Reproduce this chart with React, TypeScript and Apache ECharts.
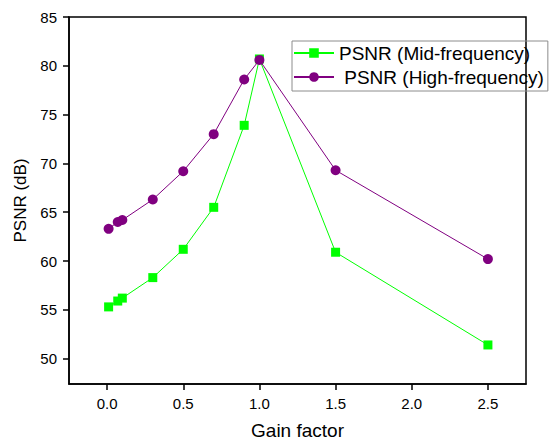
import React, { useEffect, useRef } from "react";
import * as echarts from "echarts";

const gainFactors = [0.01, 0.07, 0.1, 0.3, 0.5, 0.7, 0.9, 1.0, 1.5, 2.5];
const psnrMid = [55.3, 55.9, 56.2, 58.3, 61.2, 65.5, 73.9, 80.7, 60.9, 51.4];
const psnrHigh = [63.3, 64.0, 64.2, 66.3, 69.2, 73.0, 78.6, 80.6, 69.3, 60.2];
const xTicks = [0, 0.5, 1.0, 1.5, 2.0, 2.5];
const yTicks = [50, 55, 60, 65, 70, 75, 80, 85];
const seriesNames = ["PSNR (Mid-frequency)", " PSNR (High-frequency)"];

const FONT = "'Liberation Sans', Arial, Helvetica, sans-serif";

export default function App() {
  const ref = useRef<HTMLDivElement>(null);
  useEffect(() => {
    if (!ref.current) return;
    const chart = echarts.init(ref.current, null, { renderer: "svg" });
    chart.setOption({
      animation: false,
      backgroundColor: "#fff",
      textStyle: { fontFamily: FONT },
      grid: {
        left: 69,
        right: 27,
        top: 17,
        bottom: 58,
        show: true,
        borderColor: "#000",
        borderWidth: 1.5,
        backgroundColor: "transparent",
      },
      legend: {
        orient: "vertical",
        left: 292,
        top: 41,
        data: seriesNames,
        borderColor: "#8c8c8c",
        borderWidth: 1,
        padding: [1, 4, 3, 1],
        itemWidth: 40,
        itemHeight: 12,
        itemGap: 2,
        textStyle: { fontSize: 19, color: "#000", fontFamily: FONT, lineHeight: 22 },
      },
      xAxis: {
        type: "value",
        min: -0.25,
        max: 2.75,
        name: "Gain factor",
        nameLocation: "middle",
        nameGap: 37,
        nameTextStyle: { fontSize: 19, color: "#000", fontFamily: FONT },
        axisLine: { show: true, onZero: false, lineStyle: { color: "#000", width: 1.5 } },
        axisTick: { show: true, length: 6, inside: false, customValues: xTicks, lineStyle: { color: "#000", width: 1.5 } },
        axisLabel: {
          customValues: xTicks,
          fontSize: 15,
          color: "#000",
          margin: 12,
          fontFamily: FONT,
          formatter: (v: number) => v.toFixed(1),
        },
        splitLine: { show: false },
      },
      yAxis: {
        type: "value",
        min: 47.4,
        max: 85,
        name: "PSNR (dB)",
        nameLocation: "middle",
        nameGap: 35,
        nameTextStyle: { fontSize: 17, color: "#000", fontFamily: FONT },
        axisLine: { show: true, onZero: false, lineStyle: { color: "#000", width: 1.5 } },
        axisTick: { show: true, length: 6, inside: false, customValues: yTicks, lineStyle: { color: "#000", width: 1.5 } },
        axisLabel: {
          customValues: yTicks,
          fontSize: 15,
          color: "#000",
          margin: 12,
          fontFamily: FONT,
        },
        splitLine: { show: false },
      },
      series: [
        {
          name: seriesNames[0],
          type: "line",
          data: gainFactors.map((x, i) => [x, psnrMid[i]]),
          symbol: "rect",
          symbolSize: 9,
          showAllSymbol: true,
          itemStyle: { color: "#00ff00" },
          lineStyle: { color: "#00ff00", width: 1 },
          z: 2,
        },
        {
          name: seriesNames[1],
          type: "line",
          data: gainFactors.map((x, i) => [x, psnrHigh[i]]),
          symbol: "circle",
          symbolSize: 10,
          showAllSymbol: true,
          itemStyle: { color: "#800080" },
          lineStyle: { color: "#800080", width: 1 },
          z: 3,
        },
      ],
    });
    return () => chart.dispose();
  }, []);
  return <div ref={ref} style={{ width: 553, height: 445, position: "absolute", left: 0, top: 0 }} />;
}
